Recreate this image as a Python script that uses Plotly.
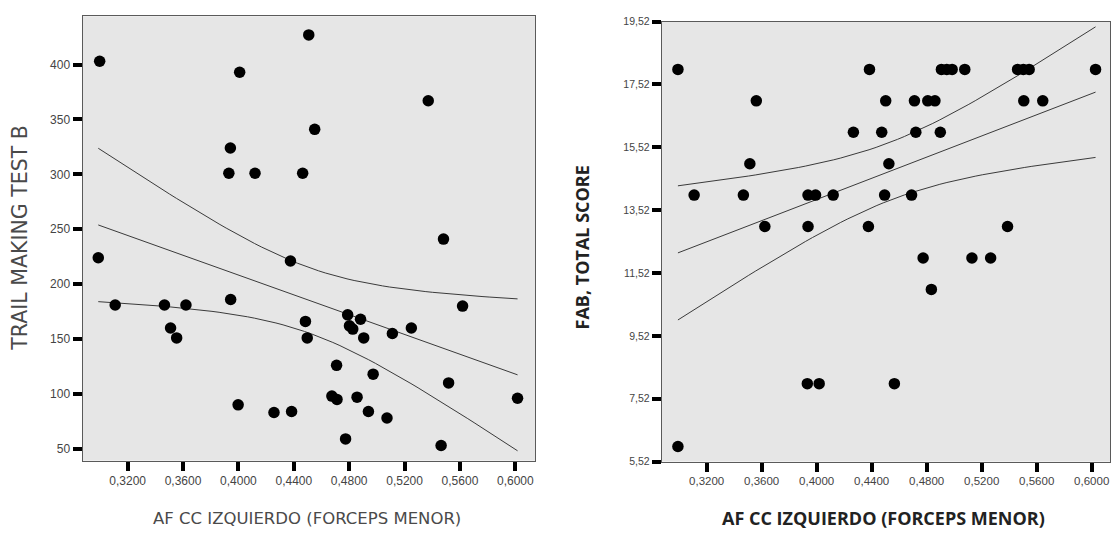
import numpy as np
import plotly.graph_objects as go

# ---- Left panel: TRAIL MAKING TEST B vs AF CC IZQUIERDO ----
tmt_x = [0.2998, 0.4508, 0.4009, 0.5371, 0.4551, 0.3942, 0.3931, 0.4120, 0.4464,
         0.5481, 0.2988, 0.4376, 0.3110, 0.3466, 0.3621, 0.3944, 0.3510, 0.3554,
         0.4484, 0.4497, 0.4789, 0.4882, 0.4802, 0.4826, 0.4905, 0.5112, 0.5249,
         0.5619, 0.4709, 0.4973, 0.5518, 0.4675, 0.4712, 0.4857, 0.4939, 0.5073,
         0.6016, 0.3998, 0.4257, 0.4384, 0.4774, 0.5464]
tmt_y = [403, 427, 393, 367, 341, 324, 301, 301, 301,
         241, 224, 221, 181, 181, 181, 186, 160, 151,
         166, 151, 172, 168, 162, 159, 151, 155, 160,
         180, 126, 118, 110, 98, 95, 97, 84, 78,
         96, 90, 83, 84, 59, 53]

# ---- Right panel: FAB, TOTAL SCORE vs AF CC IZQUIERDO ----
fab_x = [0.2991, 0.4384, 0.4907, 0.4946, 0.4985, 0.5077, 0.5461, 0.5503, 0.5545, 0.6028,
         0.3561, 0.4502, 0.4711, 0.4808, 0.4860, 0.5506, 0.5644,
         0.4267, 0.4473, 0.4721, 0.4899,
         0.3514, 0.4525,
         0.3109, 0.3467, 0.3937, 0.3992, 0.4120, 0.4494, 0.4690,
         0.3623, 0.3937, 0.4376, 0.5388,
         0.4774, 0.5129, 0.5265,
         0.4834,
         0.3932, 0.4018, 0.4565,
         0.2991]
fab_y = [18, 18, 18, 18, 18, 18, 18, 18, 18, 18,
         17, 17, 17, 17, 17, 17, 17,
         16, 16, 16, 16,
         15, 15,
         14, 14, 14, 14, 14, 14, 14,
         13, 13, 13, 13,
         12, 12, 12,
         11,
         8, 8, 8,
         6]

left_yticks = [50, 100, 150, 200, 250, 300, 350, 400]
right_yticks = [5.52, 7.52, 9.52, 11.52, 13.52, 15.52, 17.52, 19.52]
xticks = [0.32, 0.36, 0.40, 0.44, 0.48, 0.52, 0.56, 0.60]

T975 = 2.0211  # Student t, 0.975 quantile, df = 40


def fit_with_ci(xs, ys, n_pts=60):
    x = np.asarray(xs, float)
    y = np.asarray(ys, float)
    n = len(x)
    b, a = np.polyfit(x, y, 1)
    resid = y - (a + b * x)
    s = np.sqrt(np.sum(resid ** 2) / (n - 2))
    sxx = np.sum((x - x.mean()) ** 2)
    gx = np.linspace(x.min(), x.max(), n_pts)
    gy = a + b * gx
    half = T975 * s * np.sqrt(1.0 / n + (gx - x.mean()) ** 2 / sxx)
    return gx, gy, gy - half, gy + half


fig = go.Figure()

line_style = dict(color="#3a3a3a", width=1)
marker_style = dict(color="black", size=11.5, line=dict(width=0))

for xs, ys, xa, ya in [(tmt_x, tmt_y, "x", "y"), (fab_x, fab_y, "x2", "y2")]:
    gx, gy, lo, hi = fit_with_ci(xs, ys)
    for curve in (hi, gy, lo):
        fig.add_trace(go.Scatter(x=gx, y=curve, mode="lines", line=line_style,
                                 xaxis=xa, yaxis=ya, hoverinfo="skip", showlegend=False))
    fig.add_trace(go.Scatter(x=xs, y=ys, mode="markers", marker=marker_style,
                             xaxis=xa, yaxis=ya, showlegend=False))

W, H = 1118, 538

def px_dom(a, b, total):
    return [a / total, b / total]

axis_common = dict(
    showgrid=False, zeroline=False,
    showline=True, mirror=True, linecolor="#5a5a5a", linewidth=1,
    ticks="outside", ticklen=9, tickwidth=4, tickcolor="black",
    tickfont=dict(family="Liberation Sans", size=12, color="#444444"),
)

fig.update_layout(
    width=W, height=H,
    margin=dict(l=0, r=0, t=0, b=0),
    paper_bgcolor="white",
    plot_bgcolor="#e6e6e6",
    separators=",.",
    xaxis=dict(axis_common, domain=px_dom(82.5, 535, W), range=[0.2874, 0.6142],
               tickvals=xticks, tickformat=".4f", anchor="y"),
    yaxis=dict(axis_common, domain=[1 - 465 / H, 1 - 10.5 / H], range=[39.2, 444.0],
               tickvals=left_yticks, anchor="x"),
    xaxis2=dict(axis_common, domain=px_dom(661.7, 1110, W), range=[0.2873, 0.6133],
                tickvals=xticks, tickformat=".4f", anchor="y2"),
    yaxis2=dict(axis_common, domain=[1 - 466 / H, 1 - 16 / H], range=[5.52, 19.52],
                tickvals=right_yticks, tickformat=".2f", anchor="x2"),
)
fig.update_layout(xaxis2_tickfont_size=11.5, yaxis2_tickfont_size=10.5)

fig.add_annotation(text="TRAIL MAKING TEST B", textangle=-90, xref="paper", yref="paper",
                   x=20 / W, y=1 - 238 / H, showarrow=False, xanchor="center", yanchor="middle",
                   font=dict(family="DejaVu Sans", size=20.5, color="#4a4a4a"))
fig.add_annotation(text="AF CC IZQUIERDO (FORCEPS MENOR)", xref="paper", yref="paper",
                   x=307 / W, y=1 - 524 / H, showarrow=False, xanchor="center", yanchor="middle",
                   font=dict(family="DejaVu Sans", size=16.5, color="#4a4a4a"))
fig.add_annotation(text="<b>FAB, TOTAL SCORE</b>", textangle=-90, xref="paper", yref="paper",
                   x=582 / W, y=1 - 247 / H, showarrow=False, xanchor="center", yanchor="middle",
                   font=dict(family="Open Sans", size=18, color="#222222"))
fig.add_annotation(text="<b>AF CC IZQUIERDO (FORCEPS MENOR)</b>", xref="paper", yref="paper",
                   x=883 / W, y=1 - 524 / H, showarrow=False, xanchor="center", yanchor="middle",
                   font=dict(family="Open Sans", size=18, color="#222222"))

fig.write_html("out.html")
